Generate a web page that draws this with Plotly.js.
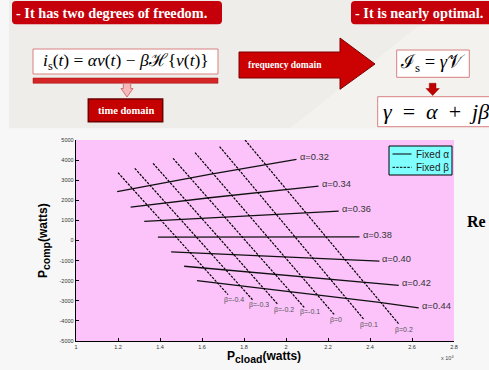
<!DOCTYPE html>
<html><head><meta charset="utf-8">
<script src="https://cdn.plot.ly/plotly-3.0.1.min.js"></script>
<style>html,body{margin:0;padding:0;background:#f7f7f7;}#chart{width:489px;height:370px;}</style>
</head><body><div id="chart"></div>
<script>
// ---- data ----
const xTickVals = [1, 1.2, 1.4, 1.6, 1.8, 2, 2.2, 2.4, 2.6, 2.8];
const xTickText = ['1', '1.2', '1.4', '1.6', '1.8', '2', '2.2', '2.4', '2.6', '2.8'];
const yTickVals = [-5000, -4000, -3000, -2000, -1000, 0, 1000, 2000, 3000, 4000, 5000];
const yTickText = ['-5000', '-4000', '-3000', '-2000', '-1000', '0', '1000', '2000', '3000', '4000', '5000'];

const alphaLabels = ['α=0.32', 'α=0.34', 'α=0.36', 'α=0.38', 'α=0.40', 'α=0.42', 'α=0.44'];
const alphaX = [
  [1.196, 1.636, 2.050],
  [1.260, 1.636, 2.155],
  [1.325, 2.251],
  [1.390, 2.350],
  [1.453, 2.016, 2.445],
  [1.515, 2.016, 2.537],
  [1.576, 2.016, 2.445, 2.632]
];
const alphaY = [
  [2428, 3290, 4038],
  [1660, 2128, 2707],
  [947, 1461],
  [165, 184],
  [-565, -831, -1030],
  [-1280, -1728, -2228],
  [-1994, -2527, -3075, -3355]
];

const betaLabels = ['β=-0.4', 'β=-0.3', 'β=-0.2', 'β=-0.1', 'β=0', 'β=0.1', 'β=0.2'];
const betaX = [
  [1.200, 1.724],
  [1.280, 1.843],
  [1.367, 1.962],
  [1.462, 2.087],
  [1.567, 2.230],
  [1.684, 2.372],
  [1.805, 2.540]
];
const betaY = [
  [3375, -2692],
  [3589, -2976],
  [3838, -3190],
  [4088, -3330],
  [4372, -3689],
  [4671, -3938],
  [5000, -4187]
];
const legendLabels = ['Fixed α', 'Fixed β'];

// ---- layout geometry (pixels) ----
const W = 489, H = 370, ML = 76, MR = 35, MT = 140, MB = 29;
const px = x => (x - ML) / (W - ML - MR);
const py = y => (H - MB - y) / (H - MT - MB);
const P = (x, y) => px(x) + ',' + py(y);
const poly = pts => 'M' + pts.map(p => P(p[0], p[1])).join(' L') + ' Z';
function rrect(x0, y0, x1, y1, r) {
  return 'M' + P(x0 + r, y0) + ' L' + P(x1 - r, y0) + ' Q' + P(x1, y0) + ' ' + P(x1, y0 + r) +
    ' L' + P(x1, y1 - r) + ' Q' + P(x1, y1) + ' ' + P(x1 - r, y1) +
    ' L' + P(x0 + r, y1) + ' Q' + P(x0, y1) + ' ' + P(x0, y1 - r) +
    ' L' + P(x0, y0 + r) + ' Q' + P(x0, y0) + ' ' + P(x0 + r, y0) + ' Z';
}
function rect(x0, y0, x1, y1, fill, line, lw) {
  return {type: 'rect', xref: 'paper', yref: 'paper', x0: px(x0), x1: px(x1), y0: py(y1), y1: py(y0),
    fillcolor: fill, line: {color: line || 'rgba(0,0,0,0)', width: line ? (lw || 1) : 0}, layer: 'above'};
}
function path(d, fill, line, lw) {
  return {type: 'path', xref: 'paper', yref: 'paper', path: d, fillcolor: fill,
    line: {color: line || 'rgba(0,0,0,0)', width: line ? (lw || 1) : 0}, layer: 'above'};
}
function note(text, x, y, opts) {
  return Object.assign({xref: 'paper', yref: 'paper', x: px(x), y: py(y), text: text, showarrow: false,
    xanchor: 'center', yanchor: 'middle'}, opts || {});
}

const serif = 'Liberation Serif, Times New Roman, serif';
const sans = 'Liberation Sans, Arial, sans-serif';
const RED = '#c6000b';
const SP = '\u2002';
const TS = '\u2005';

const traces = [];
alphaX.forEach((xs, i) => traces.push({x: xs, y: alphaY[i], type: 'scatter', mode: 'lines',
  line: {color: '#111', width: 1.3}, showlegend: false, hoverinfo: 'skip'}));
betaX.forEach((xs, i) => traces.push({x: xs, y: betaY[i], type: 'scatter', mode: 'lines',
  line: {color: '#000', width: 1.2, dash: '2.5px,1.2px'}, showlegend: false, hoverinfo: 'skip'}));

const annotations = [];
alphaLabels.forEach((t, i) => {
  const n = alphaX[i].length - 1;
  annotations.push({x: alphaX[i][n], y: alphaY[i][n], xref: 'x', yref: 'y', text: t, showarrow: false,
    xanchor: 'left', yanchor: 'middle', xshift: 1, yshift: 2, font: {family: sans, size: 9.3, color: '#333'}});
});
betaLabels.forEach((t, i) => {
  const n = betaX[i].length - 1;
  annotations.push({x: betaX[i][n], y: betaY[i][n], xref: 'x', yref: 'y', text: t, showarrow: false,
    xanchor: 'left', yanchor: 'middle', xshift: -6, yshift: -5, font: {family: sans, size: 7, color: '#555'}});
});

const shapes = [
  // slide background
  rect(9, 0, 489, 128.3, '#eeede9'),
  path(poly([[417, 27], [489, 12], [489, 128.3], [290, 128.3]]), 'rgba(255,255,255,0.3)'),
  path(rrect(12, 1, 222, 24.3, 4), RED),
  path(rrect(351, 1, 500, 24.3, 4), RED),
  rect(33, 49, 218, 74, '#ffffff', '#d98080', 1),
  rect(33, 78, 218, 83.3, '#d42626', '#a01010', 0.5),
  path(poly([[123.3, 83.3], [130.7, 83.3], [130.7, 88.5], [133, 88.5], [127, 97], [121, 88.5], [123.3, 88.5]]), '#f6b8b8', '#d07070', 1),
  rect(88.3, 99, 162.7, 121.7, '#c40000', '#6a0000', 1.5),
  path(poly([[239, 52], [340, 52], [340, 38], [375, 64], [340, 89.3], [340, 78], [239, 78]]), '#cc0202', '#7a0000', 1),
  rect(396.7, 50, 469.3, 77.3, '#ffffff', '#d98080', 1),
  path(poly([[429.3, 83.3], [436, 83.3], [436, 88.5], [439.3, 88.5], [432.7, 95.5], [426, 88.5], [429.3, 88.5]]), '#c00000', '#900000', 0.5),
  rect(377.7, 96.7, 495, 126.7, '#ffffff', '#d98080', 1),
  // legend box
  rect(389, 146, 452, 175, '#80ffff', '#000000', 1),
  {type: 'line', xref: 'paper', yref: 'paper', x0: px(392.5), x1: px(411.5), y0: py(154), y1: py(154), line: {color: '#000', width: 1}, layer: 'above'},
  {type: 'line', xref: 'paper', yref: 'paper', x0: px(392.5), x1: px(411.5), y0: py(167.3), y1: py(167.3), line: {color: '#000', width: 1, dash: '2.5px,1.2px'}, layer: 'above'}
];

annotations.push(
  note(legendLabels[0], 414, 154, {xanchor: 'left', font: {family: sans, size: 10, color: '#222'}}),
  note(legendLabels[1], 414, 167.3, {xanchor: 'left', font: {family: sans, size: 10, color: '#222'}}),
  note('<b>- It has two degrees of freedom.</b>', 14, 12.7, {xanchor: 'left', font: {family: serif, size: 14.3, color: '#ffffff'}}),
  note('<b>- It is nearly optimal.</b>', 353, 12.7, {xanchor: 'left', font: {family: serif, size: 14.3, color: '#ffffff'}}),
  note('<i>i</i><sub>s</sub>(<i>t</i>) = <i>αv</i>(<i>t</i>) − <i>β</i>ℋ{<i>v</i>(<i>t</i>)}', 125.5, 61.5, {font: {family: serif, size: 17.5, color: '#000'}}),
  note('<b>time domain</b>', 125.5, 110.5, {font: {family: serif, size: 10.5, color: '#ffffff'}}),
  note('<b>frequency domain</b>', 285, 64.5, {font: {family: serif, size: 9.5, color: '#ffffff'}}),
  note('ℐ<sub>s</sub>' + TS + '=' + TS + '<i>γ</i>𝒱', 433, 63.5, {font: {family: serif, size: 18.5, color: '#000'}}),
  note('<i>γ</i>' + SP + '=' + SP + '<i>α</i>' + SP + '+' + SP + '<i>jβ</i>', 381, 111.7, {xanchor: 'left', font: {family: serif, size: 22, color: '#000'}}),
  note('<b>Re</b>', 465, 221, {xanchor: 'left', font: {family: serif, size: 16, color: '#000'}}),
  note('<b>P<sub><span style="font-size:10.5px">cload</span></sub>(watts)</b>', 264, 357, {font: {family: sans, size: 12, color: '#000'}}),
  note('<b>P<sub><span style="font-size:10.5px">comp</span></sub>(watts)</b>', 44, 241, {textangle: -90, font: {family: sans, size: 12, color: '#000'}}),
  note('x 10<sup>4</sup>', 447, 358, {font: {family: sans, size: 5.5, color: '#444'}})
);

const axisCommon = {showline: true, linecolor: '#000', linewidth: 1.3, mirror: false, ticks: 'inside', ticklen: 3,
  tickwidth: 1, tickcolor: '#000', showgrid: false, zeroline: false, tickmode: 'array',
  tickfont: {family: sans, size: 5.5, color: '#333'}, fixedrange: true};

const layout = {
  width: W, height: H,
  margin: {l: ML, r: MR, t: MT, b: MB, pad: 0},
  paper_bgcolor: '#f7f7f7', plot_bgcolor: '#fcc3fb',
  showlegend: false,
  xaxis: Object.assign({}, axisCommon, {range: [1, 2.8], tickvals: xTickVals, ticktext: xTickText, ticklabelstandoff: 0}),
  yaxis: Object.assign({}, axisCommon, {range: [-5000, 5000], tickvals: yTickVals, ticktext: yTickText, ticklabelstandoff: 0}),
  shapes: shapes,
  annotations: annotations
};

Plotly.newPlot('chart', traces, layout, {displayModeBar: false, staticPlot: true});
</script></body></html>
